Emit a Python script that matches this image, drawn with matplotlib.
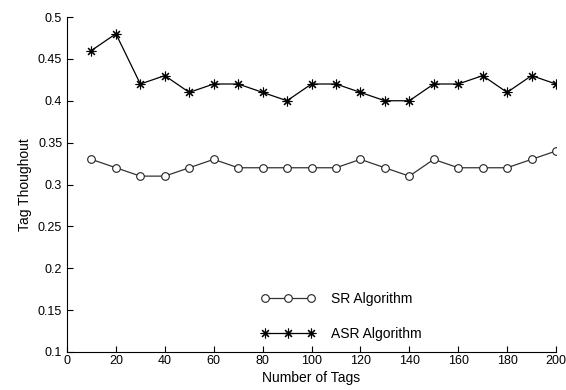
import matplotlib
matplotlib.use("Agg")
import matplotlib.pyplot as plt

plt.rcParams['font.family'] = ['Liberation Sans', 'DejaVu Sans']

num_tags = [10, 20, 30, 40, 50, 60, 70, 80, 90, 100, 110, 120, 130, 140, 150, 160, 170, 180, 190, 200]
sr_values = [0.33, 0.32, 0.31, 0.31, 0.32, 0.33, 0.32, 0.32, 0.32, 0.32,
             0.32, 0.33, 0.32, 0.31, 0.33, 0.32, 0.32, 0.32, 0.33, 0.34]
asr_values = [0.46, 0.48, 0.42, 0.43, 0.41, 0.42, 0.42, 0.41, 0.40, 0.42,
              0.42, 0.41, 0.40, 0.40, 0.42, 0.42, 0.43, 0.41, 0.43, 0.42]
x_ticks = [0, 20, 40, 60, 80, 100, 120, 140, 160, 180, 200]
y_ticks = [0.1, 0.15, 0.2, 0.25, 0.3, 0.35, 0.4, 0.45, 0.5]
y_tick_labels = ['0.1', '0.15', '0.2', '0.25', '0.3', '0.35', '0.4', '0.45', '0.5']

fig = plt.figure(figsize=(5.66, 3.90), dpi=100)
ax = fig.add_axes([67/566, 1 - 352/390, (556-67)/566, (352-17)/390])

ax.plot(num_tags, sr_values, color='#333333', lw=0.9, marker='o', markersize=5.5,
        markerfacecolor='white', markeredgecolor='#222222', markeredgewidth=0.8,
        label='SR Algorithm')
ax.plot(num_tags, asr_values, color='black', lw=0.9, marker=(8, 2, 0), markersize=7,
        markeredgecolor='black', markeredgewidth=0.8, label='ASR Algorithm')

ax.set_xlim(0, 200)
ax.set_ylim(0.1, 0.5)
ax.set_xticks(x_ticks)
ax.set_yticks(y_ticks)
ax.set_yticklabels(y_tick_labels)
ax.tick_params(direction='in', length=4, width=0.8, labelsize=9, colors='black')
ax.tick_params(axis='x', pad=2)
for s in ['top', 'right']:
    ax.spines[s].set_visible(False)
for s in ['left', 'bottom']:
    ax.spines[s].set_linewidth(0.8)

ax.set_xlabel('Number of Tags', fontsize=10, labelpad=3)
ax.set_ylabel('Tag Thoughout', fontsize=10, labelpad=4)

leg = ax.legend(loc='upper left', bbox_to_anchor=((248-67)/489, (352-279)/335),
                frameon=False, numpoints=3, handlelength=3.9, fontsize=10,
                labelspacing=1.55, handletextpad=1.2)

fig.savefig('out.png', dpi=100)
